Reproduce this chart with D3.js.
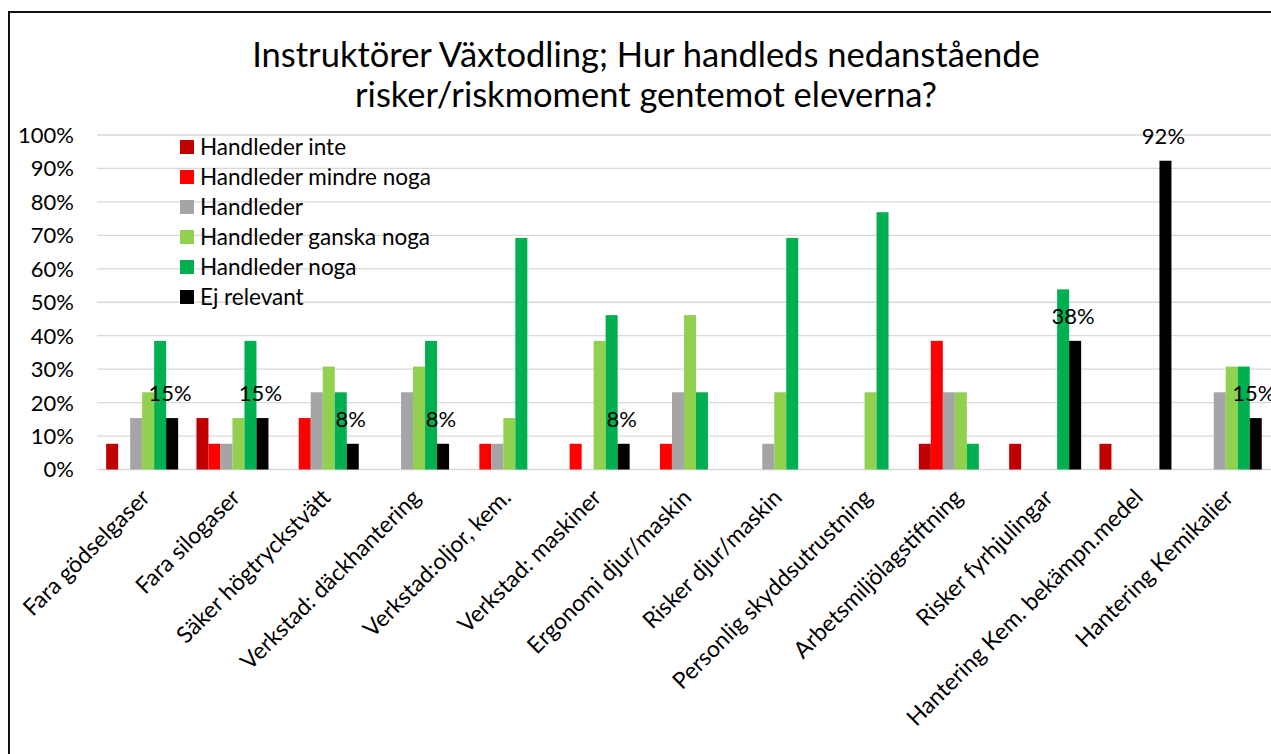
<!DOCTYPE html>
<html>
<head>
<meta charset="utf-8">
<script src="https://cdn.jsdelivr.net/npm/d3@7"></script>
<style>
  body { margin: 0; background: #fff; }
  svg { display: block; font-family: Lato, "Noto Sans", sans-serif; }
</style>
</head>
<body>
<div id="chart"></div>
<script>
// answers in percent of 13 respondents
const categories = [
  "Fara gödselgaser", "Fara silogaser", "Säker högtryckstvätt", "Verkstad: däckhantering",
  "Verkstad:oljor, kem.", "Verkstad: maskiner", "Ergonomi djur/maskin", "Risker djur/maskin",
  "Personlig skyddsutrustning", "Arbetsmiljölagstiftning", "Risker fyrhjulingar",
  "Hantering Kem. bekämpn.medel", "Hantering Kemikalier"
];
const seriesNames = ["Handleder inte", "Handleder mindre noga", "Handleder",
  "Handleder ganska noga", "Handleder noga", "Ej relevant"];
const seriesColours = ["#C00000", "#FF0000", "#A5A5A5", "#92D050", "#00B050", "#000000"];

const handlederInte      = [7.69, 15.38, 0, 0, 0, 0, 0, 0, 0, 7.69, 7.69, 7.69, 0];
const handlederMindre    = [0, 7.69, 15.38, 0, 7.69, 7.69, 7.69, 0, 0, 38.46, 0, 0, 0];
const handleder          = [15.38, 7.69, 23.08, 23.08, 7.69, 0, 23.08, 7.69, 0, 23.08, 0, 0, 23.08];
const handlederGanska    = [23.08, 15.38, 30.77, 30.77, 15.38, 38.46, 46.15, 23.08, 23.08, 23.08, 0, 0, 30.77];
const handlederNoga      = [38.46, 38.46, 23.08, 38.46, 69.23, 46.15, 23.08, 69.23, 76.92, 7.69, 53.85, 0, 30.77];
const ejRelevant         = [15.38, 15.38, 7.69, 7.69, 0, 7.69, 0, 0, 0, 0, 38.46, 92.31, 15.38];

const yTicks = [0, 10, 20, 30, 40, 50, 60, 70, 80, 90, 100];
const titleLines = ["Instruktörer Växtodling; Hur handleds nedanstående",
  "risker/riskmoment gentemot eleverna?"];

const allSeries = [handlederInte, handlederMindre, handleder, handlederGanska, handlederNoga, ejRelevant];

const width = 1271, height = 754;
const plotLeft = 97, plotTop = 135, plotBottom = 469.5;
const step = 90.3;

const svg = d3.select("#chart").append("svg")
  .attr("width", width)
  .attr("height", height);

// chart frame (right side is cut off in the original)
svg.append("rect")
  .attr("x", 9).attr("y", 12)
  .attr("width", 1300).attr("height", 800)
  .attr("fill", "none")
  .attr("stroke", "#111")
  .attr("stroke-width", 2);

svg.selectAll("text.title")
  .data(titleLines)
  .enter()
  .append("text")
  .attr("class", "title")
  .attr("x", 646)
  .attr("y", (d, i) => 67 + i * 40)
  .attr("text-anchor", "middle")
  .attr("font-size", 34.5)
  .attr("fill", "#000")
  .text(d => d);

const x0 = d3.scaleBand()
  .domain(categories)
  .range([plotLeft, plotLeft + categories.length * step]);

const x1 = d3.scaleBand()
  .domain(seriesNames)
  .range([0, x0.bandwidth()])
  .paddingOuter(0.7625);

const y = d3.scaleLinear()
  .domain([0, 100])
  .range([plotBottom, plotTop]);

// gridlines
svg.append("g")
  .selectAll("line")
  .data(yTicks)
  .enter()
  .append("line")
  .attr("x1", plotLeft)
  .attr("x2", width)
  .attr("y1", d => y(d))
  .attr("y2", d => y(d))
  .attr("stroke", "#D9D9D9")
  .attr("stroke-width", 1.3);

svg.append("g")
  .selectAll("text")
  .data(yTicks)
  .enter()
  .append("text")
  .attr("x", 74)
  .attr("y", d => y(d))
  .attr("dy", "0.36em")
  .attr("text-anchor", "end")
  .attr("font-size", 22)
  .attr("fill", "#000")
  .text(d => d + "%");

// bars
const groups = svg.append("g")
  .selectAll("g")
  .data(categories)
  .enter()
  .append("g")
  .attr("transform", d => "translate(" + x0(d) + ",0)");

groups.selectAll("rect")
  .data((c, ci) => seriesNames.map((s, si) => ({ series: s, colour: seriesColours[si], value: allSeries[si][ci] })))
  .enter()
  .filter(d => d.value > 0)
  .append("rect")
  .attr("x", d => x1(d.series))
  .attr("width", x1.bandwidth())
  .attr("y", d => y(d.value))
  .attr("height", d => y(0) - y(d.value))
  .attr("fill", d => d.colour);

// data labels only on "Ej relevant"
svg.append("g")
  .selectAll("text")
  .data(categories.map((c, i) => ({ cat: c, value: ejRelevant[i] })).filter(d => d.value > 0))
  .enter()
  .append("text")
  .attr("x", d => x0(d.cat) + x1("Ej relevant") + x1.bandwidth() / 2 - 2)
  .attr("y", d => y(d.value) - 17)
  .attr("text-anchor", "middle")
  .attr("font-size", 22)
  .attr("fill", "#000")
  .text(d => Math.round(d.value) + "%");

// category labels
svg.append("g")
  .selectAll("text")
  .data(categories)
  .enter()
  .append("text")
  .attr("transform", d => "translate(" + (x0(d) + x0.bandwidth() / 2 + 9) + ",499) rotate(-45)")
  .attr("text-anchor", "end")
  .attr("font-size", 23)
  .attr("fill", "#000")
  .text(d => d);

// legend
const legend = svg.append("g")
  .selectAll("g")
  .data(seriesNames)
  .enter()
  .append("g")
  .attr("transform", (d, i) => "translate(180," + (147 + i * 30) + ")");

legend.append("rect")
  .attr("x", 0).attr("y", -7)
  .attr("width", 14).attr("height", 14)
  .attr("fill", (d, i) => seriesColours[i]);

legend.append("text")
  .attr("x", 20)
  .attr("dy", "0.36em")
  .attr("font-size", 22.5)
  .attr("fill", "#000")
  .text(d => d);
</script>
</body>
</html>
